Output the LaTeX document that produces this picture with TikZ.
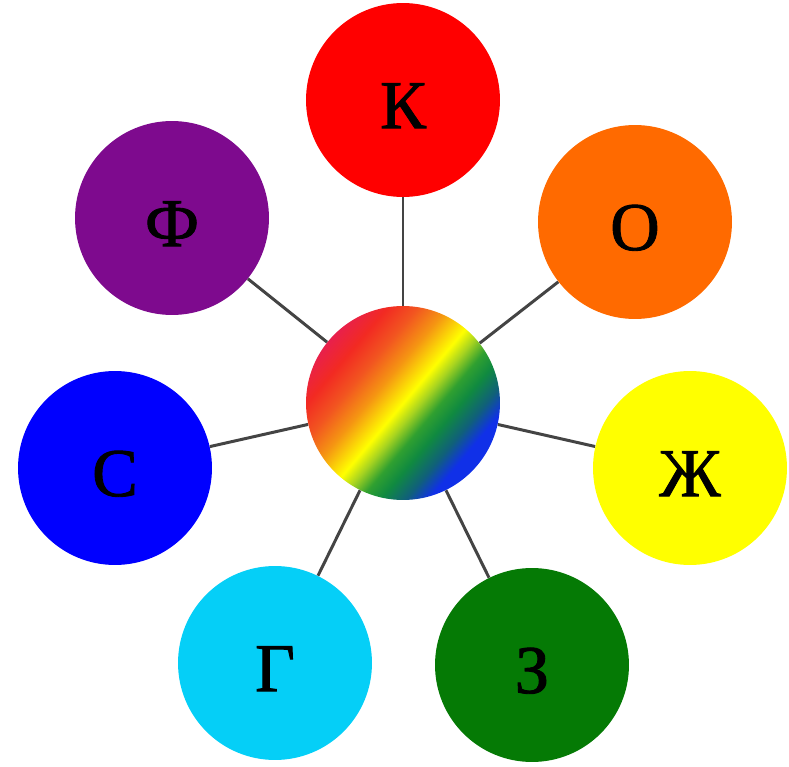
\documentclass[tikz,border=0pt]{standalone}
\usepackage{fontspec}
\setmainfont{Liberation Serif}
\newfontfamily\petalfont{Liberation Serif}[FakeBold=1.3]
\usetikzlibrary{positioning}

\definecolor{cred}{HTML}{FF0000}
\definecolor{corange}{HTML}{FF6A00}
\definecolor{cyellow}{HTML}{FFFF00}
\definecolor{cgreen}{HTML}{057A05}
\definecolor{ccyan}{HTML}{05CFF7}
\definecolor{cblue}{HTML}{0000FF}
\definecolor{cpurple}{HTML}{7E0A8E}
\definecolor{spokegray}{HTML}{444444}
\definecolor{hubcrimson}{HTML}{E8204C}
\definecolor{hubred}{HTML}{F22A22}
\definecolor{hubredorange}{HTML}{F25520}
\definecolor{huborange}{HTML}{F59512}
\definecolor{hublime}{HTML}{A8D420}
\definecolor{hubgreen}{HTML}{30A030}
\definecolor{hubdkgreen}{HTML}{108A40}
\definecolor{hubteal}{HTML}{10607A}
\definecolor{hubblue}{HTML}{1030E8}

\pgfdeclarehorizontalshading{rainbowdisc}{100bp}{
  color(0bp)=(hubcrimson); color(25bp)=(hubcrimson); color(31bp)=(hubred);
  color(37bp)=(hubredorange); color(43bp)=(huborange); color(50bp)=(cyellow);
  color(53.5bp)=(hublime); color(57.5bp)=(hubgreen); color(61.5bp)=(hubdkgreen);
  color(66.5bp)=(hubteal); color(71bp)=(hubblue); color(100bp)=(hubblue)}

\tikzset{
  petal/.style={circle, minimum size=3.88cm, inner sep=0pt,
    text height=32pt, text depth=0pt,
    font=\petalfont\fontsize{39}{46}\selectfont, text=black},
  hub/.style={circle, minimum size=3.88cm, inner sep=0pt,
    shade, shading=rainbowdisc, shading angle=-40},
  spoke/.style={line width=1.7pt, color=spokegray}
}

\begin{document}
\begin{tikzpicture}[x=0.02cm, y=-0.02cm]
	\useasboundingbox (0,0) rectangle (789,767);
	\node[hub] (hub) at (403,403) {};
	\node[petal, fill=cred] (k) at (403,100) {К};
	\node[petal, fill=corange] (o) at (635,222) {О};
	\node[petal, fill=cyellow] (zh) at (690,468) {Ж};
	\node[petal, fill=cgreen] (z) at (532,665) {З};
	\node[petal, fill=ccyan] (g) at (275,663) {Г};
	\node[petal, fill=cblue] (s) at (115,468) {С};
	\node[petal, fill=cpurple] (f) at (172,218) {Ф};
	\foreach \p in {k, o, zh, z, g, s, f}
		\draw[spoke] (hub) -- (\p);
\end{tikzpicture}
\end{document}
